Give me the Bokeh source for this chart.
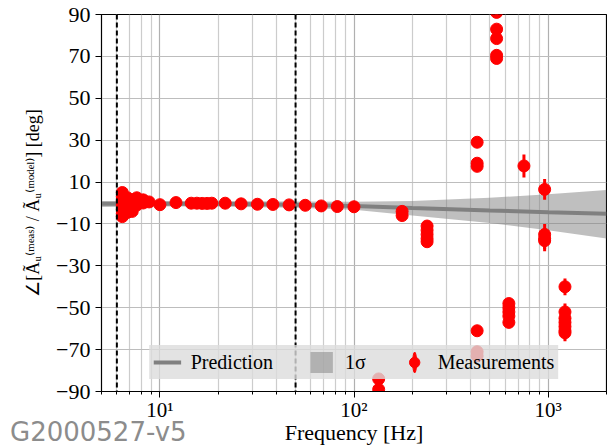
from bokeh.plotting import figure
from bokeh.models import (ColumnDataSource, FixedTicker, CustomJSTickFormatter, Span,
                          Legend, LegendItem, Range1d, Div)
from bokeh.layouts import column
from bokeh.embed import file_html
from bokeh.resources import INLINE

# ---------------- data ----------------
pred_freq = [5, 10, 20, 50, 100, 200, 500, 1000, 2000]
pred_phase = [-0.4, -0.3, -0.4, -0.8, -1.4, -2.4, -3.6, -4.4, -5.1]
band_upper = [1.0, 1.0, 0.9, 0.7, 0.6, 0.9, 2.5, 4.2, 6.2]
band_lower = [-1.9, -1.7, -1.7, -2.3, -3.2, -6.0, -9.5, -13.0, -16.9]

meas_freq = [6.4, 6.4, 6.4, 6.4, 6.4, 6.4, 6.4,
             6.8, 6.8, 6.8, 6.8,
             7.2, 7.2, 7.2, 7.2,
             7.6, 7.6, 7.6,
             8.2, 8.2, 8.8,
             10.0, 12.1, 14.5, 15.5, 16.5, 17.5, 18.5,
             21.7, 26.2, 31.8, 38.2, 46.3, 56.1, 67.8, 82.0, 100.0,
             134, 134,
             177, 177,
             238, 238, 238, 238, 238,
             431, 431, 431, 431, 431, 431,
             543, 543, 543, 543, 543,
             628, 628, 628, 628, 628,
             751,
             960, 960, 960, 960,
             1222, 1222, 1222, 1222, 1222, 1222, 1222]
meas_phase = [5.0, 3.0, 1.0, -1.0, -3.0, -5.0, -6.5,
              2.5, -0.5, -2.5, -4.5,
              1.5, -0.5, -2.5, -4.0,
              2.5, 0.5, -1.0,
              1.5, 0.0, 0.5,
              -0.8, 0.2, -0.1, -0.1, -0.2, -0.2, -0.1,
              -0.1, -0.4, -0.6, -0.7, -0.9, -1.1, -1.4, -1.7, -1.8,
              -84, -89,
              -4.0, -6.0,
              -11, -13, -15, -17, -18.5,
              29, 19, 17.5, -61, -71, -73,
              91, 83, 78.5, 70.5, 69,
              -48, -50, -52, -54, -57,
              17.7,
              6.5, -15, -17, -18,
              -40, -52, -55, -57, -59, -61, -62]
meas_err = [1.0] * 7 + [0.8] * 4 + [0.8] * 4 + [0.6] * 3 + [0.5] * 3 + \
           [0.4] * 16 + \
           [2.0] * 2 + [1.5] * 2 + [1.5] * 5 + [1.5] * 6 + [2.5] * 5 + [2.0] * 5 + \
           [5.5] + [5.0] * 4 + [4.0] * 7

x_ticks = [10, 100, 1000]
x_minor_ticks = [5, 6, 7, 8, 9, 20, 30, 40, 50, 60, 70, 80, 90,
                 200, 300, 400, 500, 600, 700, 800, 900, 2000]
y_ticks = [-90, -70, -50, -30, -10, 10, 30, 50, 70, 90]
band_edges = [6, 50]

# ---------------- figure ----------------
SERIF = "Liberation Serif"
p = figure(width=607, height=447, x_axis_type="log",
           x_range=Range1d(5, 2000), y_range=Range1d(-90, 90),
           output_backend="svg", toolbar_location=None,
           min_border_left=101, min_border_right=1, min_border_top=14, min_border_bottom=40)
p.background_fill_color = "white"
p.border_fill_color = "white"
p.outline_line_color = "black"
p.outline_line_width = 1.2

# grids
p.xaxis.ticker = FixedTicker(ticks=x_ticks, minor_ticks=x_minor_ticks)
p.yaxis.ticker = FixedTicker(ticks=y_ticks)
p.xgrid.grid_line_color = "#b0b0b0"
p.xgrid.grid_line_width = 1.2
p.xgrid.minor_grid_line_color = "#cccccc"
p.xgrid.minor_grid_line_width = 1.2
p.ygrid.grid_line_color = "#bdbdbd"
p.ygrid.grid_line_width = 1.2

# axes
for ax in (p.xaxis[0], p.yaxis[0]):
    ax.axis_line_color = "black"
    ax.major_tick_line_color = "black"
    ax.major_tick_out = 6
    ax.major_tick_in = 0
    ax.major_label_text_font = SERIF
    ax.major_label_text_font_size = "22px"
    ax.major_label_text_color = "black"
    ax.axis_label_text_font = SERIF
    ax.axis_label_text_font_style = "normal"
    ax.axis_label_text_color = "black"
p.xaxis.major_label_text_font_size = "21px"
p.xaxis.axis_label_text_font_size = "22px"
p.yaxis.axis_label_text_font_size = "18px"
p.xaxis.minor_tick_line_color = "black"
p.xaxis.minor_tick_out = 3
p.xaxis.minor_tick_in = 0
p.yaxis.minor_tick_line_color = None
p.xaxis.major_label_standoff = 0
p.xaxis.axis_label_standoff = -5
p.yaxis.axis_label_standoff = 10

p.xaxis.formatter = CustomJSTickFormatter(code="""
const sup = {'0':'\u2070','1':'\u00b9','2':'\u00b2','3':'\u00b3','4':'\u2074','5':'\u2075','6':'\u2076','7':'\u2077','8':'\u2078','9':'\u2079','-':'\u207b'};
const e = String(Math.round(Math.log10(tick)));
return '10' + e.split('').map(c => sup[c]).join('');
""")
p.yaxis.formatter = CustomJSTickFormatter(code="""
return tick < 0 ? '\u2212' + Math.abs(tick) : String(tick);
""")

p.xaxis.axis_label = "Frequency [Hz]"
p.yaxis.axis_label = "\u2220[\u00c3\u1d64\u207d\u1d50\u1d49\u1d43\u02e2\u207e / \u00c3\u1d64\u207d\u1d50\u1d52\u1d48\u1d49\u02e1\u207e] [deg]"

# band + prediction
band = p.varea(x=pred_freq, y1=band_lower, y2=band_upper, fill_color="gray", fill_alpha=0.5)
pline = p.line(x=pred_freq, y=pred_phase, line_color="gray", line_width=4)

# dashed vertical lines
for loc in band_edges:
    p.add_layout(Span(location=loc, dimension="height", line_color="black",
                      line_width=2, line_dash="5 3"))

# measurements
lo = [v - e for v, e in zip(meas_phase, meas_err)]
hi = [v + e for v, e in zip(meas_phase, meas_err)]
src = ColumnDataSource(dict(f=meas_freq, v=meas_phase, lo=lo, hi=hi))
p.segment(x0="f", y0="lo", x1="f", y1="hi", source=src, line_color="red", line_width=3)
# thin vertical ellipse (hidden under the measurement cluster) gives the legend its error bar
bar_src = ColumnDataSource(dict(f=meas_freq[2:3], v=meas_phase[2:3]))
legbar = p.ellipse("f", "v", source=bar_src, width=3, height=16, width_units="screen",
                   height_units="screen", fill_color="red", line_color="red")
circ = p.scatter("f", "v", source=src, size=12, fill_color="red", line_color="red")

legend = Legend(items=[LegendItem(label="Prediction", renderers=[pline]),
                       LegendItem(label="1\u03c3", renderers=[band]),
                       LegendItem(label="Measurements", renderers=[legbar, circ])],
                orientation="horizontal", location="bottom_center")
legend.margin = 12
legend.padding = 4
legend.spacing = 34
legend.glyph_width = 28
legend.glyph_height = 26
legend.label_standoff = 10
legend.label_text_font = SERIF
legend.label_text_font_size = "20px"
legend.label_text_color = "black"
legend.background_fill_color = "#dcdcdc"
legend.background_fill_alpha = 0.8
legend.border_line_alpha = 0
p.add_layout(legend, "center")

# watermark (page text below the axes, left corner)
wm = Div(text="G2000527-v5", margin=0,
         styles={"position": "absolute", "left": "10px", "top": "419px",
                 "font-family": "DejaVu Sans", "font-size": "26px", "color": "#8c8c8c",
                 "line-height": "1", "z-index": "10", "white-space": "nowrap"})
layout = column(p, wm, spacing=0)

open("out.html", "w").write(file_html(layout, INLINE))
